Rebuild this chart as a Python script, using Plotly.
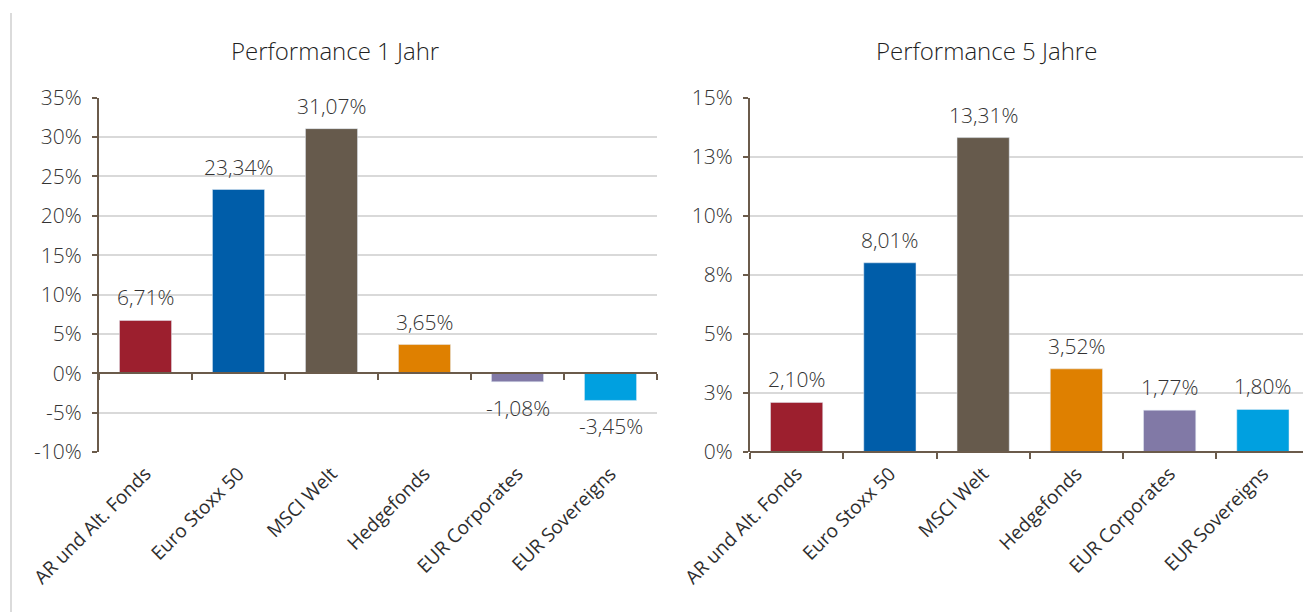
import plotly.graph_objects as go

categories = ["AR und Alt. Fonds", "Euro Stoxx 50", "MSCI Welt", "Hedgefonds", "EUR Corporates", "EUR Sovereigns"]
perf_1y = [6.71, 23.34, 31.07, 3.65, -1.08, -3.45]
perf_5y = [2.10, 8.01, 13.31, 3.52, 1.77, 1.80]
bar_colors = ["#9C1F2E", "#005DA9", "#665A4C", "#DF8000", "#8179A6", "#00A0E0"]
title_1y = "Performance 1 Jahr"
title_5y = "Performance 5 Jahre"
ticks_1y = [-10, -5, 0, 5, 10, 15, 20, 25, 30, 35]
ticktext_1y = ["-10%", "-5%", "0%", "5%", "10%", "15%", "20%", "25%", "30%", "35%"]
ticks_5y = [0, 2.5, 5, 7.5, 10, 12.5, 15]
ticktext_5y = ["0%", "3%", "5%", "8%", "10%", "13%", "15%"]

W, H = 1303, 612
FONT = "Open Sans"
TXT = "#333333"
AXC = "#6B5B4B"
GRID = "#D9D9D9"

ydom = [1 - 452 / H, 1 - 97.7 / H]
xdom1 = [99 / W, 657 / W]
xdom2 = [750 / W, 1.0]
yr1 = [-10, 35]
yr2 = [0, 15]

def zero_pos(dom, rng):
    return dom[0] + (0 - rng[0]) / (rng[1] - rng[0]) * (dom[1] - dom[0])

fig = go.Figure()
fig.add_trace(go.Bar(x=categories, y=perf_1y, marker_color=bar_colors, xaxis="x", yaxis="y",
                     hoverinfo="skip", showlegend=False))
fig.add_trace(go.Bar(x=categories, y=perf_5y, marker_color=bar_colors, xaxis="x2", yaxis="y2",
                     hoverinfo="skip", showlegend=False))
# helper traces so the zero-line category axes render
fig.add_trace(go.Scatter(x=categories, y=perf_1y, mode="none", xaxis="x3", yaxis="y",
                         hoverinfo="skip", showlegend=False))
fig.add_trace(go.Scatter(x=categories, y=perf_5y, mode="none", xaxis="x4", yaxis="y2",
                         hoverinfo="skip", showlegend=False))

cat_axis = dict(type="category", categoryorder="array", categoryarray=categories,
                showgrid=False, showline=False, ticks="", tickangle=-45,
                tickfont=dict(family=FONT, size=19, color="#2e2e2e"), automargin=False,
                ticklabelstandoff=6)
zero_axis = dict(type="category", categoryorder="array", categoryarray=categories,
                 showgrid=False, showline=True, linecolor=AXC, linewidth=2,
                 ticks="outside", tickson="boundaries", ticklen=6, tickwidth=2, tickcolor=AXC,
                 showticklabels=False, anchor="free", automargin=False)
val_axis = dict(showgrid=True, gridcolor=GRID, gridwidth=2, zeroline=False,
                showline=True, linecolor=AXC, linewidth=2, ticks="outside", ticklen=5,
                tickwidth=2, tickcolor=AXC, tickfont=dict(family=FONT, size=21, color=TXT, weight=300),
                automargin=False, ticklabelstandoff=6)

fig.update_layout(
    width=W, height=H, margin=dict(l=0, r=0, t=0, b=0),
    paper_bgcolor="white", plot_bgcolor="white",
    bargap=0.44, separators=",.",
    xaxis=dict(cat_axis, domain=xdom1, anchor="y", range=[-0.5, 5.5]),
    xaxis2=dict(cat_axis, domain=xdom2, anchor="y2", range=[-0.5, 5.43]),
    xaxis3=dict(zero_axis, domain=xdom1, overlaying="x", range=[-0.5, 5.5],
                position=zero_pos(ydom, yr1)),
    xaxis4=dict(zero_axis, domain=xdom2, overlaying="x2", range=[-0.5, 5.43],
                position=zero_pos(ydom, yr2)),
    yaxis=dict(val_axis, domain=ydom, anchor="x", range=yr1, tickvals=ticks_1y, ticktext=ticktext_1y),
    yaxis2=dict(val_axis, domain=ydom, anchor="x2", range=yr2, tickvals=ticks_5y, ticktext=ticktext_5y),
)

annotations = []
for xa, ya, vals in (("x", "y", perf_1y), ("x2", "y2", perf_5y)):
    for c, v in zip(categories, vals):
        annotations.append(dict(
            x=c, y=v, xref=xa, yref=ya, showarrow=False,
            text=f"{v:.2f}".replace(".", ",") + "%",
            yanchor="middle", yshift=23 if v >= 0 else -26,
            font=dict(family=FONT, size=21, color=TXT, weight=300)))
annotations.append(dict(x=335 / W, y=1 - 50 / H, xref="paper", yref="paper", showarrow=False,
                        text=title_1y, xanchor="center", yanchor="middle",
                        font=dict(family=FONT, size=24, color="#1f1f1f", weight=300)))
annotations.append(dict(x=986 / W, y=1 - 50 / H, xref="paper", yref="paper", showarrow=False,
                        text=title_5y, xanchor="center", yanchor="middle",
                        font=dict(family=FONT, size=24, color="#1f1f1f", weight=300)))
fig.update_layout(annotations=annotations)

fig.add_shape(type="line", xref="paper", yref="paper", x0=11 / W, x1=11 / W, y0=0, y1=1 - 13 / H,
              line=dict(color="#CFCFCF", width=1.5))

fig.write_html("out.html", config={"displayModeBar": False},
               post_script="document.body.style.margin='0';document.body.style.overflow='hidden';")
